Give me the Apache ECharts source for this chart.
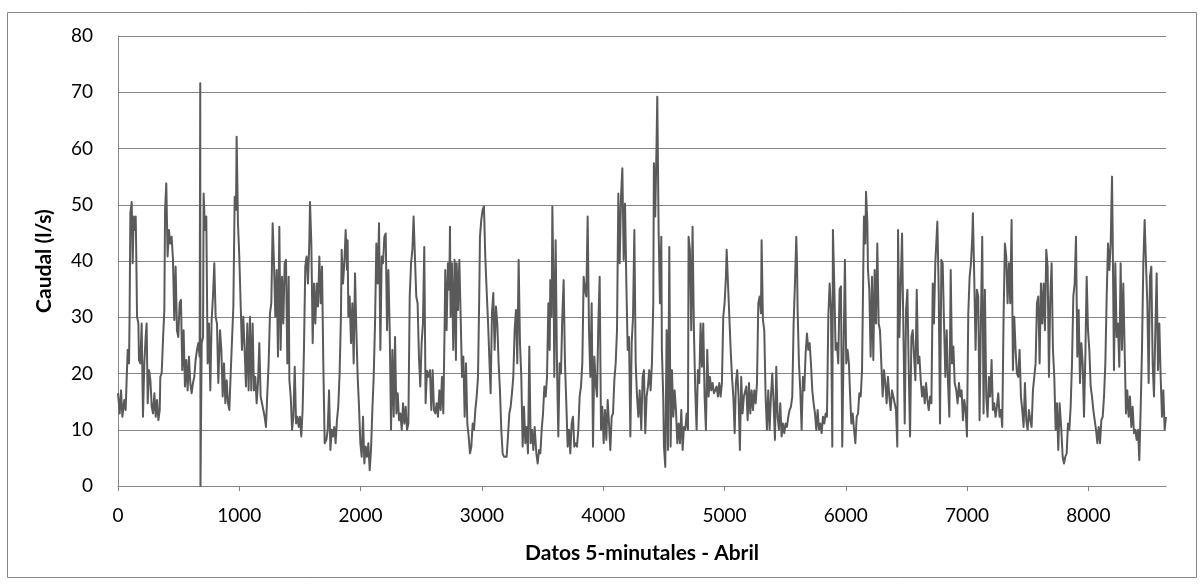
<!DOCTYPE html>
<html>
<head>
<meta charset="utf-8">
<script src="https://cdn.jsdelivr.net/npm/echarts@6/dist/echarts.min.js"></script>
<style>
  html, body { margin: 0; padding: 0; background: #ffffff; }
  #chart { width: 1204px; height: 587px; }
</style>
</head>
<body>
<div id="chart"></div>
<script>
// Caudal medido cada 5 minutos durante abril: [índice de muestra, caudal l/s]
const caudal = [
  [0,16.5],[14,12.9],[25,17],[36,12.3],[52,15.3],[63,13.5],[74,20.6],[80,24.2],[91,21.8],[96,31.3],[102,48.5],[113,50.5],[121,39.6],[129,47.9],[140,45.5],[146,47.9],[151,40.8],[157,30.1],[168,28.9],[173,22.4],[184,21.8],[195,28.9],[206,12.3],[217,21.8],[228,26.5],[236,28.9],[245,14.7],[256,20.6],[267,18.8],[278,14.1],[289,12.9],[300,16.5],[311,12.3],[322,15.3],[333,11.7],[344,13.5],[349,19.4],[360,20],[371,26],[382,31.3],[388,49],[398,53.8],[409,40.8],[420,45.5],[431,43.1],[442,44.3],[453,40.4],[464,29.5],[475,39],[486,27.7],[497,26.5],[508,32.5],[519,33.1],[530,20.6],[541,27.7],[552,17.7],[563,22.4],[574,17],[585,23],[596,18.3],[607,16.5],[618,18.3],[629,19.4],[640,22.4],[651,24.2],[662,25.4],[673,23],[678,71.6],[680,0],[690,25.4],[701,26.5],[706,52],[717,45.5],[728,47.9],[739,21.8],[750,28.9],[761,17],[772,29.5],[783,33.7],[794,39.6],[805,30.1],[816,28.9],[827,18.3],
  [841,27.7],[852,24.2],[863,15.9],[874,21.8],[885,14.7],[896,18.8],[907,14.7],[918,13.5],[929,20],[940,20],[951,31.9],[962,51.4],[973,49.1],[978,62.1],[984,53.8],[989,46.7],[1000,40.8],[1011,32.5],[1022,24.2],[1033,30.1],[1044,24.2],[1055,17.7],[1066,28.9],[1077,17],[1088,30.1],[1099,17],[1110,28.9],[1121,17],[1132,19.4],[1143,14.7],[1154,18.3],[1165,25.4],[1176,15.9],[1187,14.7],[1198,13.5],[1209,12.3],[1220,10.5],[1231,16.5],[1242,21.8],[1253,30.7],[1264,32.5],[1275,46.7],[1286,39.6],[1297,30.1],[1308,38.4],[1319,23],[1330,46.1],[1341,24.2],[1352,37.2],[1363,28.9],[1374,39.6],[1385,40.2],[1396,21.8],[1407,37.2],[1413,18.8],[1424,15.9],[1435,10],[1446,12.3],[1457,21.2],[1468,11.1],[1479,12.3],[1490,10.5],[1500,12.3],[1511,8.8],[1522,13.5],[1533,24.2],[1544,39],[1555,40.8],[1566,36],[1577,43.1],[1583,50.5],[1594,43.1],[1605,25.4],[1616,36],[1627,28.9],[1638,36],[1649,31.9],[1660,40.8],[1671,32.5],[1682,39],[1693,21.2],[1704,7.6],
  [1718,8.2],[1729,10],[1740,17],[1751,6.4],[1762,10],[1772,8.8],[1783,10.5],[1794,7.6],[1805,11.7],[1816,14.1],[1827,20],[1838,30.1],[1844,42],[1855,36],[1866,39.6],[1877,45.5],[1888,38.4],[1893,43.7],[1899,30.1],[1910,33.7],[1921,25.4],[1932,32.5],[1943,21.8],[1954,37.8],[1965,27.7],[1976,19.4],[1987,14.1],[1998,7.6],[2009,5.2],[2020,12.3],[2031,4],[2042,7],[2053,5.2],[2064,7.6],[2075,2.8],[2086,6.4],[2097,13.5],[2108,19.4],[2119,28.9],[2130,43.1],[2141,36],[2152,46.7],[2163,24.2],[2174,40.8],[2185,39.6],[2196,44.3],[2207,44.9],[2218,27.7],[2229,38.4],[2240,27.7],[2251,10],[2262,24.2],[2273,12.3],[2284,26.5],[2295,12.9],[2306,16.5],[2317,11.7],[2328,12.9],[2339,10],[2350,14.7],[2361,11.1],[2372,14.1],[2383,10],[2394,11.1],[2405,33.7],[2416,39.6],[2427,42],[2437,47.9],[2448,48.1],[2459,33.7],[2470,32.5],[2481,23],[2492,17.7],[2503,25.4],[2514,28.9],[2525,42.5],[2536,14.7],[2547,20.5],[2558,19.4],
  [2572,20.6],[2583,13.5],[2594,20.6],[2605,13.5],[2616,12.9],[2627,14.7],[2638,12.3],[2649,17],[2660,13.5],[2671,19.4],[2682,12.9],[2693,28.9],[2698,38.4],[2709,27.7],[2720,39.6],[2731,34.9],[2737,46.1],[2742,30.1],[2753,39.6],[2764,24.2],[2775,40.2],[2786,22.4],[2792,39.6],[2803,31.3],[2814,40.2],[2825,30.1],[2836,19.4],[2847,23],[2858,12.3],[2869,21.8],[2880,11.1],[2891,8.8],[2902,5.8],[2913,7],[2924,11.1],[2935,10],[2946,13.5],[2957,15.9],[2968,19.4],[2979,34.9],[2984,44.3],[2995,47.3],[3006,49.1],[3017,49.7],[3028,40.8],[3039,34.9],[3050,29.5],[3061,23],[3072,16.5],[3083,30.7],[3094,34.3],[3105,24.2],[3116,31.9],[3127,28.9],[3138,21.8],[3149,17],[3160,10],[3171,5.8],[3182,5.2],[3193,5.5],[3204,5.2],[3215,8.8],[3226,12.9],[3237,14.1],[3248,16.5],[3259,19.4],[3270,27.7],[3281,31.3],[3292,21.8],[3303,40.2],[3314,25.4],[3325,19.4],[3336,7],[3347,14.1],[3358,7.6],[3369,10.5],[3380,5.8],[3391,24.8],[3402,7.6],[3413,10],[3424,6.4],[3435,10.5],
  [3449,5.8],[3460,4],[3471,6.4],[3482,5.8],[3493,10],[3504,12.9],[3515,17.7],[3526,15.9],[3537,19.4],[3548,32.5],[3559,24.2],[3564,36.6],[3575,30.1],[3581,49.7],[3592,33.7],[3597,19.4],[3608,43.7],[3619,21.8],[3630,8.8],[3641,21.8],[3652,20],[3663,30.1],[3674,36.6],[3685,21.8],[3696,14.7],[3707,7],[3718,10],[3729,5.8],[3740,11.1],[3751,12.3],[3762,7],[3773,7.6],[3784,7],[3795,10],[3806,15.9],[3817,17.7],[3828,21.8],[3839,37.2],[3850,34.9],[3861,33.7],[3872,47.9],[3883,27.7],[3894,19.4],[3905,32.5],[3916,7],[3927,23],[3938,18.3],[3949,15.9],[3960,28.9],[3971,37.2],[3982,10],[3993,14.1],[4004,7.6],[4015,13.5],[4026,8.2],[4037,15.3],[4048,11.1],[4059,6.4],[4070,12.3],[4081,12.9],[4092,18.8],[4103,21.8],[4114,27.7],[4125,52],[4136,39.6],[4147,51.4],[4158,56.5],[4169,40.2],[4180,50.2],[4191,36],[4202,24.2],[4213,26.5],[4224,8.8],[4235,25.4],[4246,30.1],[4257,45.5],[4268,21.8],[4279,15.9],[4290,12.3],[4301,17],
  [4314,10],[4325,19.4],[4336,20.6],[4347,9.4],[4358,15.9],[4369,17.7],[4380,20.6],[4391,17],[4402,21.8],[4413,32.5],[4418,57.4],[4429,47.9],[4440,60.9],[4446,69.2],[4457,45.5],[4468,32.5],[4479,44.3],[4484,24.2],[4495,15.9],[4501,7],[4512,3.4],[4523,27.7],[4534,6.4],[4545,42.5],[4556,7],[4567,20.6],[4578,12.3],[4589,17],[4600,13.5],[4611,7.6],[4622,11.1],[4633,7.6],[4644,13.5],[4655,6.4],[4666,10.5],[4677,10],[4688,12.9],[4699,10],[4704,44.3],[4715,42],[4726,27.7],[4737,46.1],[4748,27.7],[4759,17],[4770,10],[4781,20.6],[4792,18.3],[4803,28.9],[4814,21.2],[4825,28.9],[4836,15.9],[4847,10],[4858,24.2],[4869,15.9],[4880,19.4],[4891,17],[4902,18.3],[4913,16.5],[4924,17],[4935,17.7],[4946,15.9],[4957,18.3],[4968,15.9],[4979,18.3],[4990,30.1],[5001,32.5],[5012,37.2],[5018,42],[5029,36],[5040,30.1],[5051,24.2],[5062,19.4],[5073,15.9],[5084,9.4],[5094,18.3],[5105,20.6],[5116,15.9],[5127,6.4],[5138,19.4],[5149,12.9],[5160,15.9],
  [5180,17.7],[5191,11.7],[5202,18.3],[5213,12.9],[5224,17],[5235,13.5],[5246,17],[5257,14.7],[5268,18.3],[5279,32.5],[5290,33.7],[5301,30.7],[5306,43.7],[5317,29.5],[5328,27.7],[5339,15.9],[5350,10],[5361,17],[5372,10],[5383,15.9],[5394,20],[5405,14.7],[5416,8.2],[5427,21.2],[5438,12.3],[5449,10],[5460,14.7],[5471,8.8],[5482,11.1],[5493,9.4],[5504,11.1],[5515,10.5],[5526,12.3],[5537,13.5],[5548,14.1],[5559,15.9],[5570,28.9],[5581,36],[5592,44.3],[5598,39.6],[5603,31.3],[5614,21.8],[5625,17],[5636,10],[5647,19.4],[5658,17],[5669,23.6],[5680,27.1],[5691,24.2],[5702,25.4],[5713,21.8],[5724,17],[5735,14.7],[5746,12.9],[5757,10],[5768,13.5],[5779,10],[5790,11.1],[5801,9.4],[5812,12.3],[5823,11.1],[5834,12.9],[5845,12.3],[5856,30.1],[5867,36],[5878,31.3],[5889,7],[5894,45.5],[5905,36],[5916,24.2],[5927,25.4],[5938,21.8],[5949,34.9],[5960,35.5],[5971,7],[5982,24.2],[5993,40.2],[6004,21.8],[6015,24.2],[6026,21.8],
  [6035,16.5],[6046,11.1],[6057,12.9],[6068,10],[6079,7.6],[6090,12.3],[6101,12.9],[6112,16.5],[6123,15.9],[6134,20.6],[6145,39.6],[6150,47.9],[6161,43.1],[6167,52.3],[6178,46.7],[6183,38.4],[6194,34.9],[6205,23],[6216,37.2],[6227,22.4],[6238,38.4],[6249,28.9],[6260,43.1],[6271,28.9],[6282,27.7],[6293,21.8],[6304,15.9],[6315,20.6],[6326,18.3],[6337,14.7],[6348,19.4],[6359,15.9],[6370,13.5],[6381,17],[6392,15.9],[6403,14.7],[6414,13.5],[6425,7],[6431,45.5],[6442,26.5],[6453,36],[6464,44.9],[6475,27.7],[6486,11.1],[6497,31.3],[6508,34.9],[6519,20.6],[6530,8.8],[6541,26.5],[6552,27.7],[6563,23],[6574,18.8],[6585,34.9],[6596,21.8],[6607,23],[6618,18.8],[6629,15.9],[6640,17.7],[6651,14.7],[6662,18.3],[6673,15.3],[6684,13.5],[6695,15.9],[6706,14.7],[6717,36],[6727,28.9],[6738,39.6],[6755,47],[6766,34.9],[6777,11.1],[6788,40.2],[6799,39.6],[6810,28.9],[6821,19.4],[6832,27.7],[6843,18.3],[6854,12.3],[6865,38.4],[6876,21.8],[6887,24.8],[6898,18.3],
  [6911,17],[6922,14.7],[6933,18.3],[6944,15.9],[6955,17],[6966,11.7],[6977,15.3],[6988,13.5],[6999,8.8],[7010,30.7],[7021,37.2],[7032,39.6],[7043,44.3],[7048,48.5],[7059,37.2],[7070,24.2],[7081,34.9],[7092,33.7],[7103,11.7],[7114,29.5],[7125,44.3],[7136,12.9],[7147,34.9],[7158,15.9],[7169,12.3],[7180,19.4],[7191,15.9],[7202,22.4],[7213,13.5],[7224,14.7],[7235,12.3],[7246,14.1],[7257,16.5],[7268,12.3],[7279,13.5],[7290,10.5],[7301,30.1],[7312,43.1],[7323,40.8],[7334,32.5],[7345,39.6],[7356,32.5],[7367,47.3],[7378,20.6],[7389,30.1],[7400,24.2],[7411,20],[7422,19.4],[7433,24.2],[7444,15.9],[7455,13.5],[7466,10.5],[7477,18.3],[7488,11.7],[7499,10],[7510,13.5],[7521,11.7],[7532,10.5],[7543,17],[7554,19.4],[7565,21.8],[7576,32.5],[7587,33.7],[7598,21.8],[7609,36],[7620,28.9],[7631,36],[7642,27.7],[7653,42],[7664,39],[7675,19.4],[7686,33.7],[7697,39.6],[7708,24.2],[7719,19.4],[7730,10],[7741,14.7],[7752,6.4],[7763,14.7],
  [7777,10],[7788,5.2],[7799,4],[7810,5.2],[7821,5.8],[7832,11.1],[7843,10],[7854,14.1],[7865,21.8],[7876,33.7],[7887,36],[7898,44.3],[7909,23],[7920,31.3],[7931,18.3],[7942,25.4],[7953,21.8],[7964,12.3],[7975,23],[7986,37.2],[7997,27.7],[8008,24.2],[8019,17.7],[8030,15.9],[8041,13.5],[8052,11.7],[8063,10],[8074,7.6],[8085,10.5],[8096,7.6],[8107,11.7],[8118,12.3],[8129,15.9],[8140,21.8],[8151,33.7],[8162,43.1],[8173,38.4],[8184,43.1],[8195,55],[8200,45.5],[8211,20.6],[8222,39.6],[8233,26.5],[8244,28.9],[8255,21.2],[8266,39.6],[8277,24.2],[8288,36],[8299,24.2],[8310,12.9],[8321,17],[8332,12.3],[8343,15.9],[8354,10.5],[8365,14.1],[8376,9.4],[8387,10],[8398,8.2],[8409,10],[8420,4.6],[8431,13.5],[8442,24.2],[8453,39.6],[8464,47.3],[8475,39.6],[8486,32.5],[8497,18.3],[8508,37.2],[8519,39],[8530,21.8],[8541,15.9],[8552,27.7],[8563,37.8],[8574,20.6],[8585,28.9],[8596,19.4],[8607,12.3],[8618,17],[8629,10],[8640,12.3]
];

const tituloX = 'Datos 5-minutales - Abril';
const tituloY = 'Caudal (l/s)';
const muestrasTotales = 8640;   // 30 días x 288 muestras
const pasoX = 1000;
const maxY = 80;
const pasoY = 10;

const gris = '#868686';
const fuente = 'Lato, "Liberation Sans", sans-serif';

const chart = echarts.init(document.getElementById('chart'), null, { renderer: 'canvas' });

chart.setOption({
  backgroundColor: '#ffffff',
  animation: false,
  graphic: [{
    type: 'rect',
    shape: { x: 7.5, y: 12.5, width: 1189, height: 565 },
    style: { fill: 'none', stroke: gris, lineWidth: 1 },
    silent: true
  }],
  grid: { left: 118, right: 38, top: 36, bottom: 101, containLabel: false },
  xAxis: {
    type: 'value',
    min: 0,
    max: muestrasTotales,
    interval: pasoX,
    name: tituloX,
    nameLocation: 'middle',
    nameGap: 57,
    nameTextStyle: { fontFamily: fuente, fontWeight: 'bold', fontSize: 21, color: '#000' },
    axisLine: { show: true, lineStyle: { color: gris, width: 1 } },
    axisTick: { show: true, length: 5, lineStyle: { color: gris } },
    axisLabel: {
      fontFamily: fuente, fontSize: 19, color: '#000', margin: 20,
      showMaxLabel: false,
      formatter: v => String(v)
    },
    splitLine: { show: false }
  },
  yAxis: {
    type: 'value',
    min: 0,
    max: maxY,
    interval: pasoY,
    name: tituloY,
    nameLocation: 'middle',
    nameGap: 63,
    nameRotate: 90,
    nameTextStyle: { fontFamily: fuente, fontWeight: 'bold', fontSize: 21, color: '#000' },
    axisLine: { show: true, lineStyle: { color: gris, width: 1 } },
    axisTick: { show: false },
    axisLabel: { fontFamily: fuente, fontSize: 19, color: '#000', margin: 25 },
    splitLine: { show: true, lineStyle: { color: gris, width: 1 } }
  },
  series: [{
    type: 'line',
    data: caudal,
    showSymbol: false,
    symbol: 'none',
    smooth: false,
    lineStyle: { color: '#5a5a5a', width: 2, join: 'round' },
    sampling: null,
    z: 3
  }]
});
</script>
</body>
</html>
